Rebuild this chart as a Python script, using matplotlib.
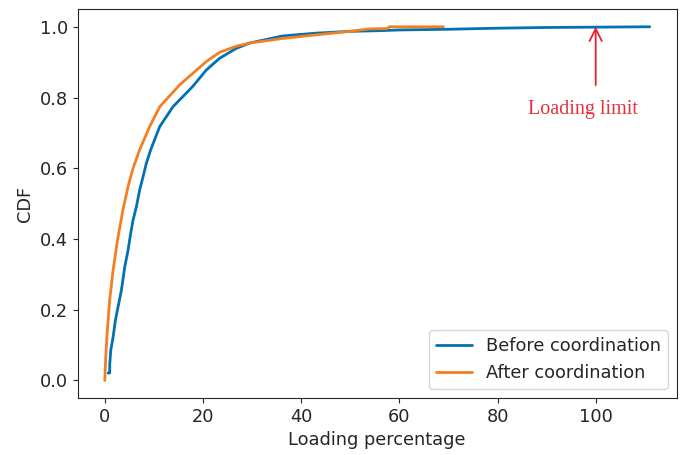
import matplotlib
matplotlib.use('Agg')
import matplotlib.pyplot as plt
import seaborn as sns

sns.set_style('ticks')
plt.rcParams['font.family'] = ['DejaVu Sans']

# CDF points (loading %, cumulative fraction)
before_x = [0.68, 1.0, 1.02, 1.22, 1.7, 2.17, 2.71, 3.39, 4.07, 4.74, 5.28,
            5.76, 6.44, 7.1, 7.8, 8.47, 9.35, 11.2, 13.9, 17.9, 20.7, 23.4,
            26.8, 29.5, 36.2, 43.0, 49.8, 55.9, 60.0, 70.0, 80.0, 90.0,
            100.0, 111.0]
before_y = [0.021, 0.021, 0.047, 0.085, 0.123, 0.17, 0.208, 0.255, 0.321,
            0.368, 0.416, 0.453, 0.491, 0.538, 0.576, 0.614, 0.652, 0.718,
            0.774, 0.831, 0.878, 0.911, 0.939, 0.954, 0.974, 0.982, 0.987,
            0.989, 0.991, 0.993, 0.996, 0.998, 0.999, 1.0]

after_x = [0.0, 0.2, 0.47, 1.0, 1.7, 2.6, 3.7, 4.74, 5.76, 7.1, 9.15, 11.2,
           15.2, 17.9, 20.7, 23.4, 26.8, 29.5, 36.2, 43.0, 49.8, 53.9, 57.5,
           58.0, 69.0]
after_y = [0.0, 0.066, 0.132, 0.227, 0.312, 0.397, 0.482, 0.548, 0.6, 0.652,
           0.718, 0.774, 0.835, 0.868, 0.902, 0.928, 0.945, 0.954, 0.967,
           0.977, 0.987, 0.994, 0.995, 1.0, 1.0]

limit = 100

fig = plt.figure(figsize=(6.89, 4.55), dpi=100)
ax = fig.add_axes([0.1125, 0.125, 0.87, 0.855])

ax.plot(before_x, before_y, color='#0072B2', lw=2, label='Before coordination')
ax.plot(after_x, after_y, color='#F47F20', lw=2, label='After coordination')

# loading limit marker
ax.annotate('', xy=(limit, 1.0), xytext=(limit, 0.835),
            arrowprops=dict(arrowstyle='->', color='#E8202E', lw=1.3,
                            mutation_scale=22, shrinkA=0, shrinkB=0))
ax.text(limit - 2.6, 0.765, 'Loading limit', color='#E8303A', fontsize=14.5,
        family='Liberation Serif', ha='center', va='center')

ax.set_xlabel('Loading percentage', fontsize=12.8)
ax.set_ylabel('CDF', fontsize=12.8)
ax.tick_params(labelsize=12.8)
ax.set_yticks([0.0, 0.2, 0.4, 0.6, 0.8, 1.0])
ax.legend(loc='lower right', fontsize=12.8)

plt.savefig('out.png', dpi=100)
